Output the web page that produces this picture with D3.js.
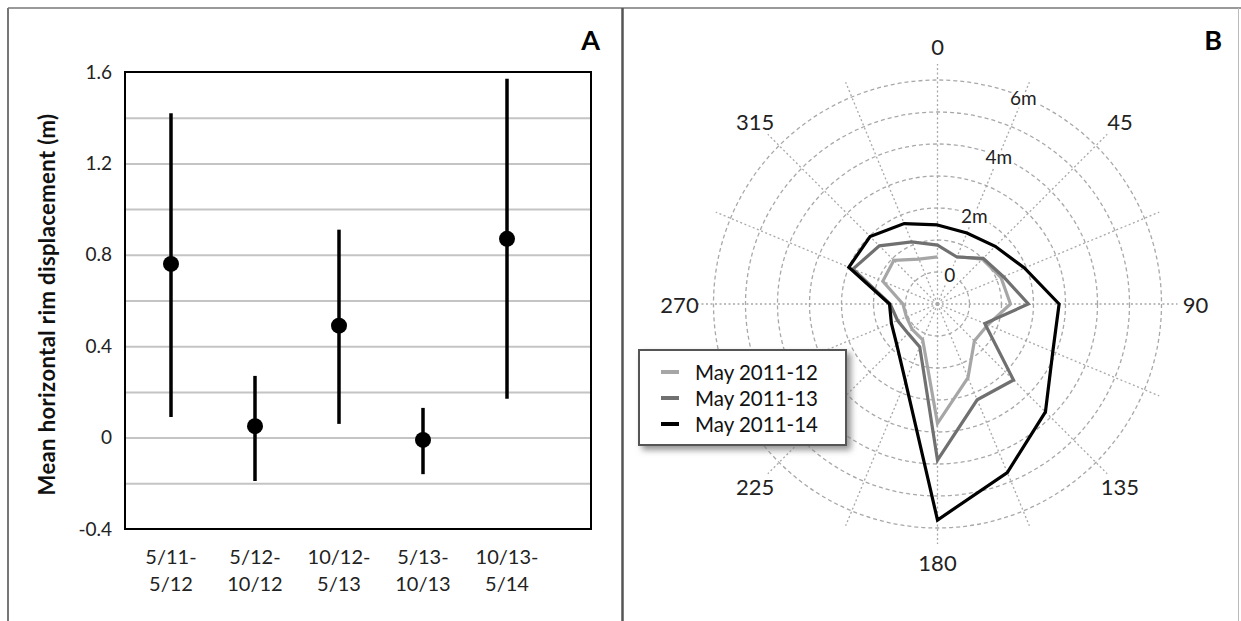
<!DOCTYPE html>
<html>
<head>
<meta charset="utf-8">
<script src="https://cdn.jsdelivr.net/npm/d3@7/dist/d3.min.js"></script>
<style>
  body { margin: 0; background: #fff; }
  svg { display: block; font-family: Lato, "Open Sans", sans-serif; }
</style>
</head>
<body>
<div id="chart"></div>
<script>
// Panel A: mean horizontal rim displacement per period
var periods = ["5/11-5/12", "5/12-10/12", "10/12-5/13", "5/13-10/13", "10/13-5/14"];
var periodLines = [["5/11-", "5/12"], ["5/12-", "10/12"], ["10/12-", "5/13"], ["5/13-", "10/13"], ["10/13-", "5/14"]];
var meanValues = [0.76, 0.05, 0.49, -0.01, 0.87];
var lowValues = [0.09, -0.19, 0.06, -0.16, 0.17];
var highValues = [1.42, 0.27, 0.91, 0.13, 1.57];
var yTickValues = [-0.4, 0, 0.4, 0.8, 1.2, 1.6];
var yTickLabels = ["-0.4", "0", "0.4", "0.8", "1.2", "1.6"];
var yGridValues = [-0.2, 0, 0.2, 0.4, 0.6, 0.8, 1.0, 1.2, 1.4];

// Panel B: radial displacement by direction (degrees), in metres
var directions = [0, 22.5, 45, 67.5, 90, 112.5, 135, 157.5, 180, 202.5, 225, 247.5, 270, 292.5, 315, 337.5];
var seriesNames = ["May 2011-12", "May 2011-13", "May 2011-14"];
var may1112 = [0.47, 0.6, 0.98, 1.15, 1.28, 0.7, 0.63, 1.49, 2.73, 0.21, 0.12, 0.05, 0.08, 0.85, 0.93, 0.52];
var may1113 = [0.84, 0.59, 1.02, 1.23, 1.84, 0.6, 2.36, 2.24, 3.88, 0.45, 0.3, 0.35, 0.48, 1.86, 1.57, 1.1];
var may1114 = [1.47, 1.4, 1.55, 1.94, 2.8, 2.9, 3.77, 4.7, 5.75, 1.62, 0.8, 0.56, 0.5, 2.0, 1.98, 1.72];
var ringValues = [0, 1, 2, 3, 4, 5, 6];
var ringLabelValues = [0, 2, 4, 6];
var ringLabels = ["0", "2m", "4m", "6m"];
var angleLabelValues = [0, 45, 90, 135, 180, 225, 270, 315];

var width = 1241, height = 621;

var svg = d3.select("#chart").append("svg")
  .attr("width", width)
  .attr("height", height);

svg.append("rect").attr("width", width).attr("height", height).attr("fill", "#fff");

// Figure frame and divider
svg.append("line").attr("x1", 8).attr("x2", width).attr("y1", 8).attr("y2", 8)
  .attr("stroke", "#999").attr("stroke-width", 2);
svg.append("line").attr("x1", 8).attr("x2", 8).attr("y1", 8).attr("y2", height)
  .attr("stroke", "#777").attr("stroke-width", 2);
svg.append("line").attr("x1", 622.5).attr("x2", 622.5).attr("y1", 8).attr("y2", height)
  .attr("stroke", "#555").attr("stroke-width", 2.5);
svg.append("line").attr("x1", 1238.5).attr("x2", 1238.5).attr("y1", 8).attr("y2", height)
  .attr("stroke", "#bbb").attr("stroke-width", 1);

// ---------- Panel A ----------
var plot = { left: 125, top: 72, right: 591, bottom: 529 };

var yScale = d3.scaleLinear().domain([-0.4, 1.6]).range([plot.bottom, plot.top]);
var xScale = d3.scalePoint().domain(periods).range([171, 507]);

var panelA = svg.append("g").attr("class", "panel-a");

// Grid lines
panelA.append("g")
  .attr("class", "y grid")
  .attr("transform", `translate(${plot.left},0)`)
  .call(d3.axisLeft(yScale).tickValues(yGridValues).tickSize(-(plot.right - plot.left)).tickFormat(""))
  .call(g => g.select(".domain").remove())
  .call(g => g.selectAll("line").attr("stroke", "#c4c4c4").attr("stroke-width", 2));

// Y axis labels
panelA.append("g")
  .attr("class", "y axis")
  .attr("transform", `translate(${plot.left},0)`)
  .call(d3.axisLeft(yScale).tickValues(yTickValues).tickSize(0).tickPadding(13)
    .tickFormat((d, i) => yTickLabels[i]))
  .call(g => g.select(".domain").remove())
  .call(g => g.selectAll("text").attr("font-size", 19).attr("fill", "#222").attr("font-family", "Lato"));

// Plot frame
panelA.append("rect")
  .attr("x", plot.left).attr("y", plot.top)
  .attr("width", plot.right - plot.left).attr("height", plot.bottom - plot.top)
  .attr("fill", "none").attr("stroke", "#000").attr("stroke-width", 2);

// Category labels (two lines)
var catLabels = panelA.append("g").attr("class", "x labels")
  .selectAll("text")
  .data(periods)
  .enter()
  .append("text")
  .attr("x", d => xScale(d))
  .attr("y", 564)
  .attr("text-anchor", "middle")
  .attr("font-size", 20)
  .attr("fill", "#222");

catLabels.append("tspan").attr("x", d => xScale(d)).text((d, i) => periodLines[i][0]);
catLabels.append("tspan").attr("x", d => xScale(d)).attr("dy", 27).text((d, i) => periodLines[i][1]);

// Error bars
panelA.append("g").selectAll("line")
  .data(periods)
  .enter()
  .append("line")
  .attr("x1", d => xScale(d)).attr("x2", d => xScale(d))
  .attr("y1", (d, i) => yScale(lowValues[i]))
  .attr("y2", (d, i) => yScale(highValues[i]))
  .attr("stroke", "#000").attr("stroke-width", 3.5);

panelA.append("g").selectAll("circle")
  .data(periods)
  .enter()
  .append("circle")
  .attr("cx", d => xScale(d))
  .attr("cy", (d, i) => yScale(meanValues[i]))
  .attr("r", 8)
  .attr("fill", "#000");

// Axis title
panelA.append("text")
  .attr("transform", `translate(46,${(plot.top + plot.bottom) / 2 + 4}) rotate(-90)`)
  .attr("text-anchor", "middle")
  .attr("dominant-baseline", "central")
  .attr("font-size", 22)
  .attr("letter-spacing", 0.4)
  .attr("font-weight", 700)
  .attr("fill", "#111")
  .text("Mean horizontal rim displacement (m)");

svg.append("text").attr("x", 600).attr("y", 50).attr("text-anchor", "end")
  .attr("font-size", 27).attr("font-weight", 700).text("A");

// ---------- Panel B ----------
var cx = 937.5, cy = 304;
var rScale = d3.scaleLinear().domain([-1, 6]).range([0, 224]);
var spokeLength = 240;
var labelRadius = 258;
var rad = d => d * Math.PI / 180;

var panelB = svg.append("g").attr("transform", `translate(${cx},${cy})`);

// Rings
panelB.append("g").selectAll("circle")
  .data(ringValues)
  .enter()
  .append("circle")
  .attr("r", d => rScale(d))
  .attr("fill", "none")
  .attr("stroke", "#a8a8a8")
  .attr("stroke-width", 1.3)
  .attr("stroke-dasharray", "4,3");

// Spokes
panelB.append("g").selectAll("line")
  .data(directions)
  .enter()
  .append("line")
  .attr("x1", 0).attr("y1", 0)
  .attr("x2", d => spokeLength * Math.sin(rad(d)))
  .attr("y2", d => -spokeLength * Math.cos(rad(d)))
  .attr("stroke", "#a8a8a8")
  .attr("stroke-width", 1.3)
  .attr("stroke-dasharray", "2,2.5");

// Ring labels along the 22.5 degree spoke
panelB.append("g").selectAll("text")
  .data(ringLabelValues)
  .enter()
  .append("text")
  .attr("x", d => rScale(d) * Math.sin(rad(22.5)))
  .attr("y", d => -rScale(d) * Math.cos(rad(22.5)))
  .attr("text-anchor", "middle")
  .attr("dominant-baseline", "central")
  .attr("font-size", 19)
  .attr("fill", "#222")
  .attr("stroke", "#fff")
  .attr("stroke-width", 6)
  .attr("paint-order", "stroke")
  .text((d, i) => ringLabels[i]);

// Direction labels
panelB.append("g").selectAll("text")
  .data(angleLabelValues)
  .enter()
  .append("text")
  .attr("x", d => labelRadius * Math.sin(rad(d)))
  .attr("y", d => -labelRadius * Math.cos(rad(d)))
  .attr("text-anchor", "middle")
  .attr("dominant-baseline", "central")
  .attr("font-size", 22)
  .attr("fill", "#222")
  .text(d => d);

// Series outlines
var radial = d3.lineRadial()
  .angle(d => rad(d[0]))
  .radius(d => rScale(d[1]));

var seriesData = [may1112, may1113, may1114];
var seriesColors = ["#a6a6a6", "#707070", "#000000"];

seriesData.forEach(function (values, s) {
  var pts = directions.map((d, i) => [d, values[i]]);
  var path;
  if (s === 0) {
    // first survey line is not closed between 0 and 22.5 degrees
    pts = pts.slice(1).concat([[360, values[0]]]);
    path = radial.curve(d3.curveLinear)(pts);
  } else {
    path = radial.curve(d3.curveLinearClosed)(pts);
  }
  panelB.append("path")
    .attr("d", path)
    .attr("fill", "none")
    .attr("stroke", seriesColors[s])
    .attr("stroke-width", 3.2)
    .attr("stroke-linejoin", "miter");
});

// Legend
var defs = svg.append("defs");
var shadow = defs.append("filter").attr("id", "shadow")
  .attr("x", "-10%").attr("y", "-10%").attr("width", "130%").attr("height", "140%");
shadow.append("feDropShadow").attr("dx", 4).attr("dy", 4).attr("stdDeviation", 3)
  .attr("flood-color", "#777").attr("flood-opacity", 0.8);

var legend = svg.append("g").attr("class", "legend").attr("transform", "translate(639,350)");
legend.append("rect")
  .attr("width", 207).attr("height", 95)
  .attr("fill", "#fff")
  .attr("stroke", "#555").attr("stroke-width", 2)
  .attr("filter", "url(#shadow)");

var legendItems = legend.selectAll(".key-item")
  .data(seriesNames)
  .enter()
  .append("g")
  .attr("class", "key-item")
  .attr("transform", (d, i) => `translate(0,${22 + i * 26})`);

legendItems.append("line")
  .attr("x1", 22).attr("x2", 40)
  .attr("stroke", (d, i) => seriesColors[i])
  .attr("stroke-width", 4);

legendItems.append("text")
  .attr("x", 56)
  .attr("dominant-baseline", "central")
  .attr("font-size", 20.5)
  .attr("fill", "#111")
  .text(d => d);

svg.append("text").attr("x", 1222).attr("y", 50).attr("text-anchor", "end")
  .attr("font-size", 27).attr("font-weight", 700).text("B");
</script>
</body>
</html>
